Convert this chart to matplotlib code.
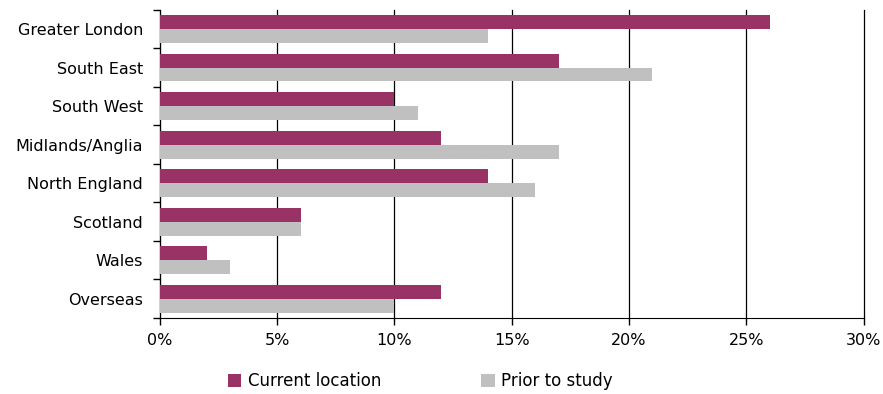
import matplotlib.pyplot as plt
import numpy as np
from matplotlib.ticker import FixedLocator, PercentFormatter

regions = ["Greater London", "South East", "South West", "Midlands/Anglia",
           "North England", "Scotland", "Wales", "Overseas"]
current = [26, 17, 10, 12, 14, 6, 2, 12]
prior = [14, 21, 11, 17, 16, 6, 3, 10]

plt.rcParams["font.family"] = "DejaVu Sans"

fig = plt.figure(figsize=(8.83, 3.94), dpi=100)
ax = fig.add_axes([0.181, 0.193, 0.797, 0.782])

y = np.arange(len(regions))
h = 0.36
ax.barh(y - h / 2, current, height=h, color="#993366", label="Current location", zorder=3)
ax.barh(y + h / 2, prior, height=h, color="#C0C0C0", label="Prior to study", zorder=3)

ax.set_xlim(0, 30)
ax.set_ylim(len(regions) - 0.5, -0.5)
ax.set_xticks(np.arange(0, 31, 5))
ax.xaxis.set_major_formatter(PercentFormatter(decimals=0))
ax.set_yticks(y)
ax.set_yticklabels(regions)
ax.yaxis.set_minor_locator(FixedLocator(np.arange(-0.5, len(regions), 1)))
ax.tick_params(axis="y", which="major", length=0, pad=12, labelsize=11.5)
ax.tick_params(axis="y", which="minor", length=5, width=1, color="black")
ax.tick_params(axis="x", length=5, width=1, labelsize=11.5, pad=6)

ax.grid(axis="x", color="black", linewidth=0.9, zorder=0)
for gl in ax.get_xgridlines():
    gl.set_clip_on(False)
ax.spines["top"].set_visible(False)
ax.spines["right"].set_visible(False)

fig.legend(loc="lower left", bbox_to_anchor=(0.241, -0.028), ncol=2, frameon=False,
           fontsize=12, handlelength=0.8, handleheight=0.8, handletextpad=0.4,
           columnspacing=6)

fig.savefig("out.png", dpi=100)
